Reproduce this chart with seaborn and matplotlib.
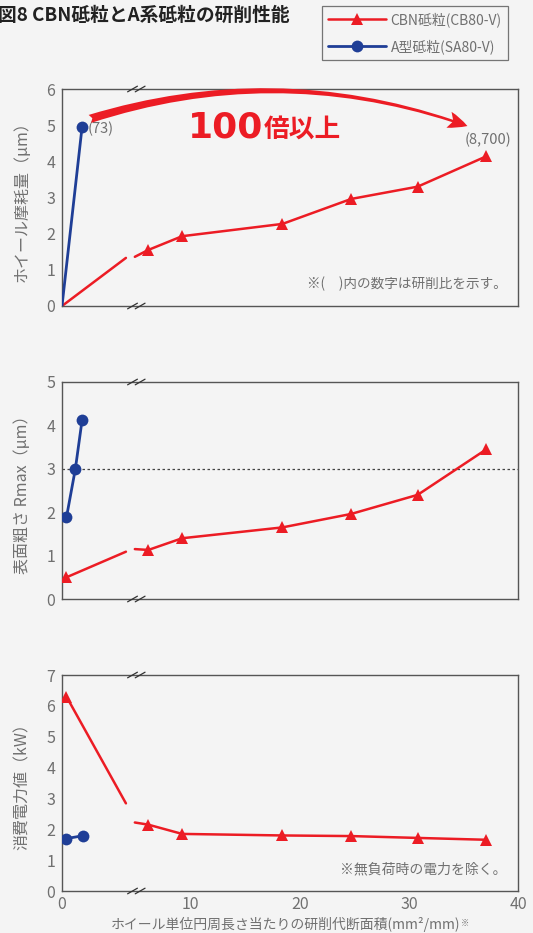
import numpy as np
import pandas as pd
import matplotlib
matplotlib.use("Agg")
import matplotlib.pyplot as plt
import seaborn as sns
from matplotlib.patches import FancyArrowPatch
from matplotlib.lines import Line2D
import matplotlib.transforms as mtransforms

sns.set_style("white")
plt.rcParams['font.family'] = ['Noto Sans CJK JP', 'DejaVu Sans']

# ---------------- data ----------------
title = "図8 CBN砥粒とA系砥粒の研削性能"
series_names = ["CBN砥粒(CB80-V)", "A型砥粒(SA80-V)"]

x_cbn = [6.1, 9.2, 18.4, 24.7, 30.8, 37.1]
wear_cbn = [1.55, 1.93, 2.27, 2.96, 3.30, 4.14]
rmax_cbn = [1.13, 1.40, 1.65, 1.96, 2.40, 3.45]
power_cbn = [2.15, 1.85, 1.80, 1.78, 1.72, 1.66]

# first CBN point (left, expanded section of the broken axis)
cbn_start_x = [0.0, 0.3, 0.3]
cbn_start_y = [0.0, 0.5, 6.3]
cbn_start_marker = [False, True, True]
# line values at the two edges of the axis break
gap_x = [4.3, 4.9]
gap_y_left = [1.33, 1.09, 2.84]
gap_y_right = [1.36, 1.15, 2.22]

a_wear_x = [0.0, 1.35]
a_wear_y = [0.0, 4.95]
a_rmax_x = [0.3, 0.9, 1.35]
a_rmax_y = [1.88, 3.0, 4.12]
a_power_x = [0.3, 1.4]
a_power_y = [1.70, 1.79]

ylabels = ["ホイール摩耗量（μm）", "表面粗さ Rmax（μm）", "消費電力値（kW）"]
ylims = [6, 5, 7]
xlabel = "ホイール単位円周長さ当たりの研削代断面積(mm²/mm)"
x_major = [0, 10, 20, 30, 40]
x_minor = [2, 15, 25, 35]
ratio_labels = ["(73)", "(8,700)"]
big_text = ("100", "倍以上")
note_top = "※(　)内の数字は研削比を示す。"
note_bottom = "※無負荷時の電力を除く。"
rmax_ref = 3.0

# --------------- style ----------------
BG = "#f4f4f4"
RED = "#ec1c24"
BLUE = "#1f3e96"
SPINE = "#555555"
TXT = "#707070"
BREAK = 5.0
R = 14.9 / 10.93  # expansion of the left section


def fwd(x):
    x = np.asarray(x, dtype=float)
    return np.where(x <= BREAK, x * R, BREAK * R + (x - BREAK))


def inv(v):
    v = np.asarray(v, dtype=float)
    return np.where(v <= BREAK * R, v / R, v - BREAK * R + BREAK)


fig = plt.figure(figsize=(5.33, 9.33), dpi=100, facecolor=BG)
W, H = 533, 933
boxes = [(89, 306), (382, 599), (675, 891)]
axes = []
for top, bot in boxes:
    ax = fig.add_axes([62 / W, 1 - bot / H, 456 / W, (bot - top) / H])
    ax.set_facecolor(BG)
    axes.append(ax)

yvals_cbn = [wear_cbn, rmax_cbn, power_cbn]
a_sets = [(a_wear_x, a_wear_y, 1), (a_rmax_x, a_rmax_y, 0), (a_power_x, a_power_y, 0)]

for i, ax in enumerate(axes):
    # CBN left segment
    sx = [cbn_start_x[i], gap_x[0]]
    sy = [cbn_start_y[i], gap_y_left[i]]
    sns.lineplot(x=sx, y=sy, ax=ax, color=RED, lw=1.8, sort=False,
                 marker="^" if cbn_start_marker[i] else None, markersize=9,
                 markevery=[0], markeredgewidth=0, zorder=3, legend=False)
    # CBN right segment
    rx = [gap_x[1]] + x_cbn
    ry = [gap_y_right[i]] + yvals_cbn[i]
    sns.lineplot(x=rx, y=ry, ax=ax, color=RED, lw=1.8, sort=False,
                 marker="^", markersize=9, markevery=list(range(1, len(rx))),
                 markeredgewidth=0, zorder=3, legend=False)
    # A series
    ax_, ay_, m0 = a_sets[i]
    sns.lineplot(x=ax_, y=ay_, ax=ax, color=BLUE, lw=2.0, sort=False,
                 marker="o", markersize=8.5, markevery=list(range(m0, len(ax_))),
                 markeredgewidth=0, zorder=4, legend=False)

    ax.set_xscale("function", functions=(fwd, inv))
    ax.set_xlim(0, 40)
    ax.set_ylim(0, ylims[i])
    ax.set_yticks(range(0, ylims[i] + 1))
    ax.set_xticks(x_major)
    ax.set_xticks(x_minor, minor=True)
    ax.tick_params(axis="both", which="both", direction="in", color=SPINE,
                   labelcolor=TXT, labelsize=11.5, width=0.9)
    ax.tick_params(axis="both", which="major", length=5)
    ax.tick_params(axis="x", which="minor", length=5)
    ax.tick_params(axis="y", pad=5)
    if i < 2:
        ax.set_xticklabels([])
    for s in ax.spines.values():
        s.set_color(SPINE)
        s.set_linewidth(1.0)
    ax.set_ylabel(ylabels[i], color=TXT, fontsize=11.5)
    ax.yaxis.set_label_coords(-0.068, 0.5)
    ax.set_xlabel("")

    # axis break marks
    trans = mtransforms.blended_transform_factory(ax.transData, ax.transAxes)
    for yy in (0, 1):
        for dx in (-0.35, 0.35):
            xc = fwd(BREAK) + dx * 1.0
            ax.add_line(Line2D([inv(xc - 0.45), inv(xc + 0.45)],
                               [yy - 0.013, yy + 0.013], transform=trans,
                               color="#333333", lw=0.9, clip_on=False, zorder=6))

# reference line in roughness panel
axes[1].axhline(rmax_ref, color="#444444", lw=0.9, ls=(0, (2, 2)), zorder=2)

# labels on top panel
a0 = axes[0]
a0.text(a_wear_x[-1] + 0.4, a_wear_y[-1] - 0.05, ratio_labels[0], color=TXT,
        fontsize=10.5, va="center", ha="left")
a0.text(x_cbn[-1] + 2.3, wear_cbn[-1] + 0.45, ratio_labels[1], color=TXT,
        fontsize=10.5, va="center", ha="right")
arrow = FancyArrowPatch((a_wear_x[-1] + 0.35, 5.15), (35.6, 4.95),
                        connectionstyle="arc3,rad=-0.17",
                        arrowstyle="fancy,head_length=14,head_width=12,tail_width=6",
                        color=RED, lw=0, zorder=5, clip_on=False)
a0.add_patch(arrow)
a0.text(16.6, 4.93, big_text[0], color=RED, fontsize=26, fontweight="bold",
        ha="right", va="center",
        family=["Liberation Sans Narrow", "DejaVu Sans Condensed", "DejaVu Sans"])
a0.text(16.7, 4.88, big_text[1], color=RED, fontsize=18.5, fontweight="bold",
        ha="left", va="center")
a0.text(0.975, 0.1, note_top, transform=a0.transAxes, color=TXT, fontsize=9.8,
        ha="right", va="center")
axes[2].text(0.975, 0.1, note_bottom, transform=axes[2].transAxes, color=TXT,
             fontsize=10, ha="right", va="center")

xl = axes[2].set_xlabel(xlabel, color=TXT, fontsize=10)
axes[2].xaxis.set_label_coords(0.49, -0.118)

fig.text(-0.003, 0.984, title, fontsize=13.5, fontweight="bold",
         color="#222222", ha="left", va="center")

handles = [Line2D([], [], color=RED, lw=1.8, marker="^", markersize=8.5, markeredgewidth=0),
           Line2D([], [], color=BLUE, lw=2.0, marker="o", markersize=8.5, markeredgewidth=0)]
leg = fig.legend(handles, series_names, loc="upper right",
                 bbox_to_anchor=(508 / W, 1 - 6 / H), frameon=True, fancybox=False,
                 fontsize=10, handlelength=4.2, labelcolor=TXT, borderpad=0.45,
                 labelspacing=0.85, handletextpad=0.3, borderaxespad=0)
leg.get_frame().set_edgecolor(SPINE)
leg.get_frame().set_facecolor(BG)
leg.get_frame().set_linewidth(0.9)

# small ※ superscript right after the x label
fig.canvas.draw()
bb = xl.get_window_extent()
fig.text((bb.x1 + 1) / W, (bb.y1 - 2) / H, "※", color=TXT, fontsize=6,
         ha="left", va="top")

fig.savefig("out.png", dpi=100, facecolor=BG)
